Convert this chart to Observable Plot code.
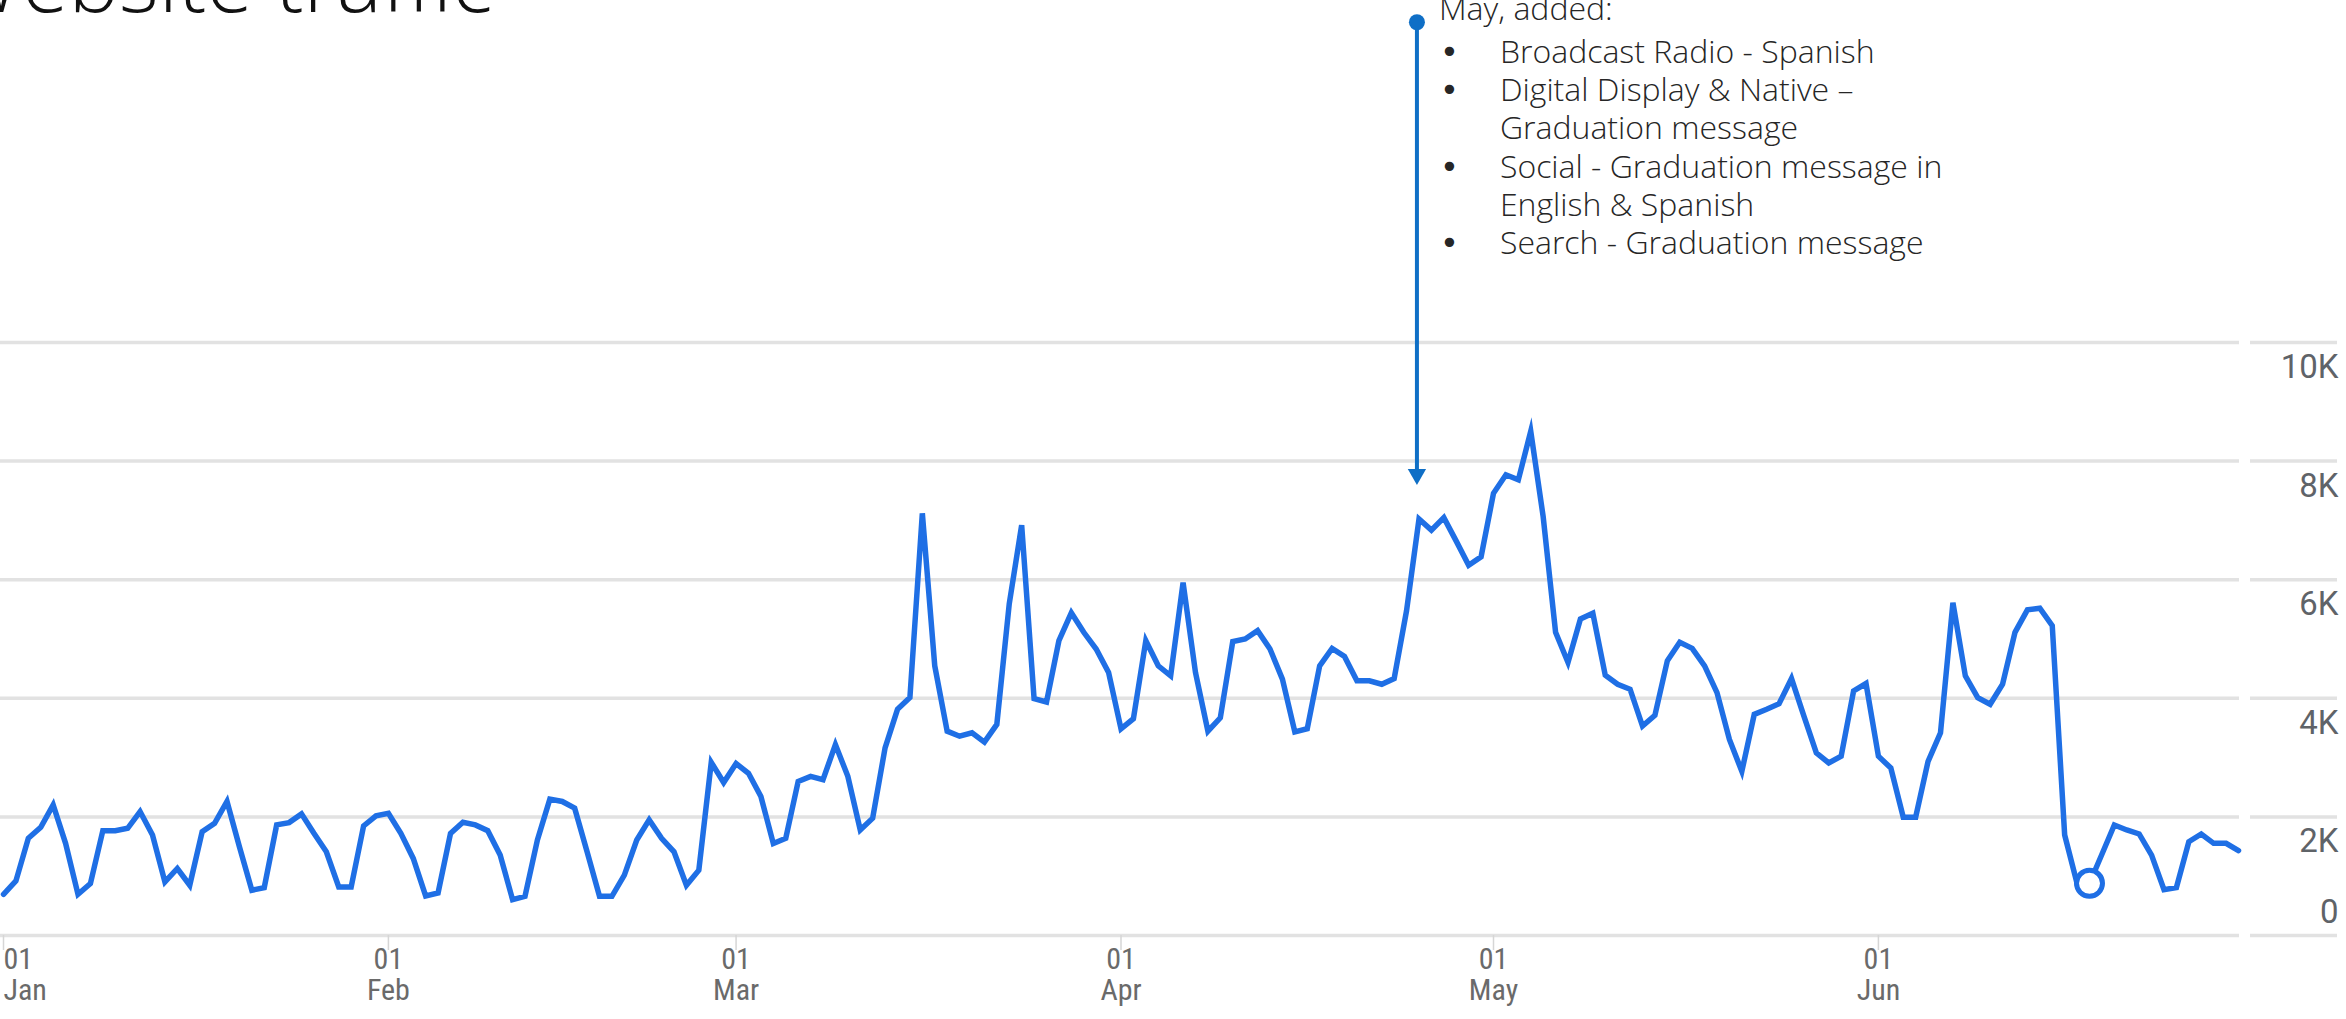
<!DOCTYPE html>
<html>
<head>
<meta charset="utf-8">
<script src="https://cdn.jsdelivr.net/npm/d3@7"></script>
<script src="https://cdn.jsdelivr.net/npm/@observablehq/plot@0.6"></script>
<style>
html, body { margin: 0; padding: 0; background: #fff; overflow: hidden; }
#wrap { position: relative; width: 2346px; height: 1019px; }
#title { position: absolute; left: -54px; top: -63px; margin: 0; font-family: "Open Sans", sans-serif; font-weight: 300; font-size: 85px; line-height: 1; color: #111; white-space: nowrap; }
#chart { position: absolute; left: 0; top: 0; }
</style>
</head>
<body>
<div id="wrap">
  <div id="chart"></div>
  <h1 id="title">Website traffic</h1>
</div>
<script>
// ---- Data (daily website sessions) ----
const startDate = "2023-01-01";
const visits = [
  695, 920, 1639, 1825, 2203, 1554, 695, 876, 1768, 1768,
  1808, 2090, 1695, 904, 1130, 848, 1751, 1893, 2260, 1497,
  763, 808, 1865, 1904, 2051, 1723, 1412, 819, 819, 1848,
  2017, 2062, 1723, 1300, 667, 718, 1723, 1910, 1865, 1768,
  1356, 605, 661, 1610, 2300, 2260, 2147, 1412, 661, 661,
  1017, 1610, 1949, 1639, 1412, 848, 1102, 2920, 2580, 2900,
  2735, 2345, 1550, 1639, 2599, 2684, 2627, 3220, 2684, 1780,
  1978, 3164, 3814, 4012, 7119, 4548, 3446, 3361, 3418, 3260,
  3560, 5594, 6921, 3995, 3938, 4972, 5441, 5113, 4831, 4435,
  3486, 3655, 4972, 4548, 4378, 5949, 4435, 3446, 3672, 4955,
  5000, 5141, 4831, 4322, 3435, 3486, 4548, 4842, 4706, 4294,
  4294, 4237, 4333, 5480, 7023, 6836, 7046, 6650, 6243, 6385,
  7458, 7769, 7684, 8503, 7063, 5113, 4605, 5339, 5435, 4390,
  4237, 4153, 3531, 3712, 4633, 4944, 4842, 4548, 4096, 3305,
  2768, 3729, 3814, 3910, 4333, 3701, 3079, 2910, 3023, 4124,
  4249, 3023, 2825, 1995, 1995, 2938, 3418, 5610, 4378, 4012,
  3899, 4237, 5113, 5492, 5520, 5226, 1695, 876, 880, 1370,
  1864, 1780, 1712, 1356, 774, 808, 1582, 1712, 1554, 1554,
  1430
];
const xDomain = ["2023-01-01", "2023-06-30"];
const monthTicks = ["2023-01-01", "2023-02-01", "2023-03-01", "2023-04-01", "2023-05-01", "2023-06-01"];
const yTicks = [0, 2000, 4000, 6000, 8000, 10000];
const yTickLabels = ["0", "2K", "4K", "6K", "8K", "10K"];
const highlightDate = "2023-06-18";

// annotation (arrow from the label down to late-April traffic)
const annotationDate = "2023-04-24T20:00";
const annotationTop = 15400;
const annotationTip = 7600;
const annotationHeader = "May, added:";
const annotationItems = [
  ["Broadcast Radio - Spanish"],
  ["Digital Display & Native –", "Graduation message"],
  ["Social - Graduation message in", "English & Spanish"],
  ["Search - Graduation message"]
];

// ---- Build table ----
const parse = d3.utcParse("%Y-%m-%d");
const start = parse(startDate);
const data = visits.map((v, i) => ({date: d3.utcDay.offset(start, i), value: v}));
const highlight = data.filter(d => +d.date === +parse(highlightDate));
const annotation = [{date: new Date(annotationDate + "Z"), top: annotationTop, tip: annotationTip}];
const bulletColumn = [""].concat(annotationItems.flatMap(item => item.map((_, j) => j === 0 ? "•" : ""))).join("\n");
const textColumn = [""].concat(annotationItems.flat()).join("\n");
const ticks = monthTicks.map(parse);

// ---- Layout ----
const W = 2346, H = 1019;
const mL = 3, mR = 108, mT = 342, mB = 84;
const plotW = W - mL - mR;

const gridColor = "#e2e2e2";
const lineColor = "#1f6fe5";
const arrowColor = "#0f6fc6";
const labelColor = "#5f6368";
const xLabelColor = "#6a6a6a";
const xFont = "'Liberation Sans Narrow', 'Roboto Condensed', 'DejaVu Sans Condensed', 'Roboto', sans-serif";
const noteFont = "'Open Sans', sans-serif";
const lineStep = 38.3;
const noteSize = 32;

const chart = Plot.plot({
  width: W,
  height: H,
  marginLeft: mL,
  marginRight: mR,
  marginTop: mT,
  marginBottom: mB,
  style: {background: "transparent", overflow: "visible"},
  x: {type: "utc", domain: xDomain.map(parse)},
  y: {domain: [0, 10000], nice: false},
  marks: [
    // gridlines (two segments like the reference)
    Plot.ruleY(yTicks, {stroke: gridColor, strokeWidth: 3.5, insetLeft: -3, insetRight: -1}),
    Plot.ruleY(yTicks, {stroke: gridColor, strokeWidth: 3.5, insetLeft: plotW + 12, insetRight: -99}),
    // y axis labels (below their gridline; 0 above)
    Plot.axisY(yTicks.slice(1), {
      anchor: "right", tickSize: 0, tickPadding: 100, textAnchor: "end", dy: 25,
      tickFormat: d => yTickLabels[yTicks.indexOf(d)], label: null,
      fontSize: 33, fontFamily: "Roboto, sans-serif", fill: labelColor
    }),
    Plot.axisY([0], {
      anchor: "right", tickSize: 0, tickPadding: 100, textAnchor: "end", dy: -23,
      tickFormat: d => yTickLabels[yTicks.indexOf(d)], label: null,
      fontSize: 33, fontFamily: "Roboto, sans-serif", fill: labelColor
    }),
    // x axis
    Plot.axisX(ticks.slice(0, 1), {
      anchor: "bottom", tickSize: 15, tickPadding: -3, stroke: "#d6d6d6", strokeWidth: 1.5,
      textAnchor: "start", tickFormat: d3.utcFormat("%d\n%b"), label: null,
      fontSize: 30, lineHeight: 1.02, fontFamily: xFont, fill: xLabelColor
    }),
    Plot.axisX(ticks.slice(1), {
      anchor: "bottom", tickSize: 15, tickPadding: -3, stroke: "#d6d6d6", strokeWidth: 1.5,
      tickFormat: d3.utcFormat("%d\n%b"), label: null,
      fontSize: 30, lineHeight: 1.02, fontFamily: xFont, fill: xLabelColor
    }),
    // traffic line
    Plot.lineY(data, {x: "date", y: "value", stroke: lineColor, strokeWidth: 5.5, strokeLinejoin: "miter", strokeMiterlimit: 6}),
    Plot.dot(highlight, {x: "date", y: "value", r: 13, fill: "white", stroke: lineColor, strokeWidth: 5}),
    // annotation arrow
    Plot.ruleX(annotation, {x: "date", y1: "top", y2: "tip", stroke: arrowColor, strokeWidth: 4, insetBottom: 12}),
    Plot.dot(annotation, {x: "date", y: "top", r: 8, fill: arrowColor}),
    Plot.dot(annotation, {x: "date", y: "tip", symbol: "triangle", r: 6.8, rotate: 180, fill: arrowColor, dy: -10.5}),
    // annotation text
    Plot.text(annotation, {
      x: "date", y: "top", text: () => annotationHeader, textAnchor: "start", lineAnchor: "top",
      dx: 22, dy: -25, fontSize: noteSize, fontFamily: noteFont, fontWeight: 300, fill: "#262626"
    }),
    Plot.text(annotation, {
      x: "date", y: "top", text: () => bulletColumn, textAnchor: "start", lineAnchor: "top",
      dx: 23, dy: -25, fontSize: noteSize, lineHeight: lineStep / noteSize,
      fontFamily: "'DejaVu Sans', sans-serif", fontWeight: 400, fill: "#262626"
    }),
    Plot.text(annotation, {
      x: "date", y: "top", text: () => textColumn, textAnchor: "start", lineAnchor: "top",
      dx: 83, dy: -25, fontSize: noteSize, lineHeight: lineStep / noteSize,
      fontFamily: noteFont, fontWeight: 300, fill: "#262626"
    })
  ]
});
document.getElementById("chart").appendChild(chart);
</script>
</body>
</html>
